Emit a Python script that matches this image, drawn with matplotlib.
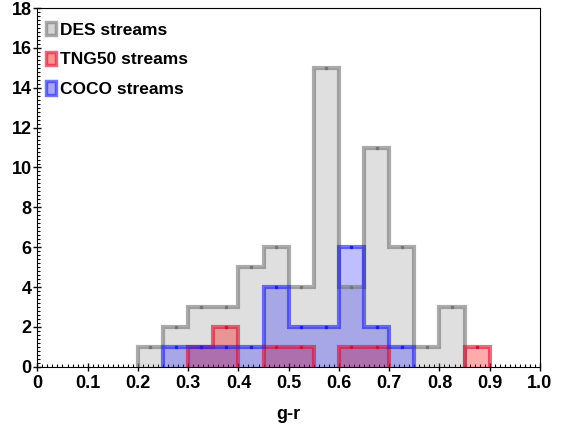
import matplotlib
matplotlib.use("Agg")
import matplotlib.pyplot as plt
import numpy as np
from matplotlib.ticker import MultipleLocator
from matplotlib.patches import Patch

plt.rcParams['font.family'] = ['Liberation Sans', 'DejaVu Sans']

# bin edges (width 0.05) and counts per bin
bin_edges = [0.20, 0.25, 0.30, 0.35, 0.40, 0.45, 0.50, 0.55, 0.60, 0.65, 0.70, 0.75, 0.80, 0.85, 0.90]
des_counts = [1, 2, 3, 3, 5, 6, 4, 15, 4, 11, 6, 1, 3, 0]
tng_counts = [0, 0, 1, 2, 0, 1, 1, 0, 1, 1, 0, 0, 0, 1]
coco_counts = [0, 1, 1, 1, 1, 4, 2, 2, 6, 2, 1, 0, 0, 0]

series = [
    ("DES streams", des_counts, (0.55, 0.55, 0.55), 0.27, (0.45, 0.45, 0.45)),
    ("TNG50 streams", tng_counts, (1.0, 0.0, 0.0), 0.33, (0.85, 0.05, 0.2)),
    ("COCO streams", coco_counts, (0.0, 0.0, 1.0), 0.25, (0.1, 0.1, 0.95)),
]

fig = plt.figure(figsize=(5.66, 4.25), dpi=100)
ax = fig.add_axes([0.066, 0.137, 0.888, 0.844])

handles = []
for name, counts, face, falpha, edge in series:
    edges = np.array(bin_edges)
    h = np.array(counts)
    ax.stairs(h, edges, fill=True, color=face, alpha=falpha, zorder=2, lw=0)
    # outline drawn per run of non-empty bins, so no line along the baseline
    i = 0
    while i < len(h):
        if h[i] == 0:
            i += 1
            continue
        j = i
        while j < len(h) and h[j] > 0:
            j += 1
        ax.stairs(h[i:j], edges[i:j + 1], color=edge, alpha=0.6, linewidth=3,
                  baseline=0, zorder=3)
        i = j
    centers = (edges[:-1] + edges[1:]) / 2
    keep = h > 0
    ax.plot(centers[keep], h[keep], 's', ms=2, color=edge, alpha=0.9, zorder=4)
    handles.append(Patch(facecolor=(*face, falpha + 0.1), edgecolor=(*edge, 0.6),
                         linewidth=2.5, label=name))

ax.set_xlim(0, 1.0)
ax.set_ylim(0, 18)
ax.xaxis.set_minor_locator(MultipleLocator(0.01))
ax.yaxis.set_major_locator(MultipleLocator(2))
ax.yaxis.set_minor_locator(MultipleLocator(0.2))
ax.set_xticks(np.arange(0, 1.01, 0.1))
ax.set_xticklabels(['0', '0.1', '0.2', '0.3', '0.4', '0.5', '0.6', '0.7', '0.8', '0.9', '1.0'])
ax.tick_params(which='major', direction='inout', length=6, width=1, labelsize=13)
ax.tick_params(which='minor', direction='in', length=2.5, width=0.8)
ax.tick_params(axis='x', which='major', pad=3)
ax.tick_params(axis='y', which='major', pad=1)
for lab in ax.get_xticklabels() + ax.get_yticklabels():
    lab.set_fontweight('bold')
ax.set_xlabel("g-r", fontsize=13, fontweight='bold', labelpad=10)

ax.legend(handles=handles, loc='upper left', frameon=False,
          prop={'weight': 'bold', 'size': 12.5}, handlelength=0.6,
          handleheight=0.8, handletextpad=0.2, labelspacing=0.8,
          bbox_to_anchor=(0.0, 0.985), borderaxespad=0.0, borderpad=0.5)

fig.savefig("out.png", dpi=100)
